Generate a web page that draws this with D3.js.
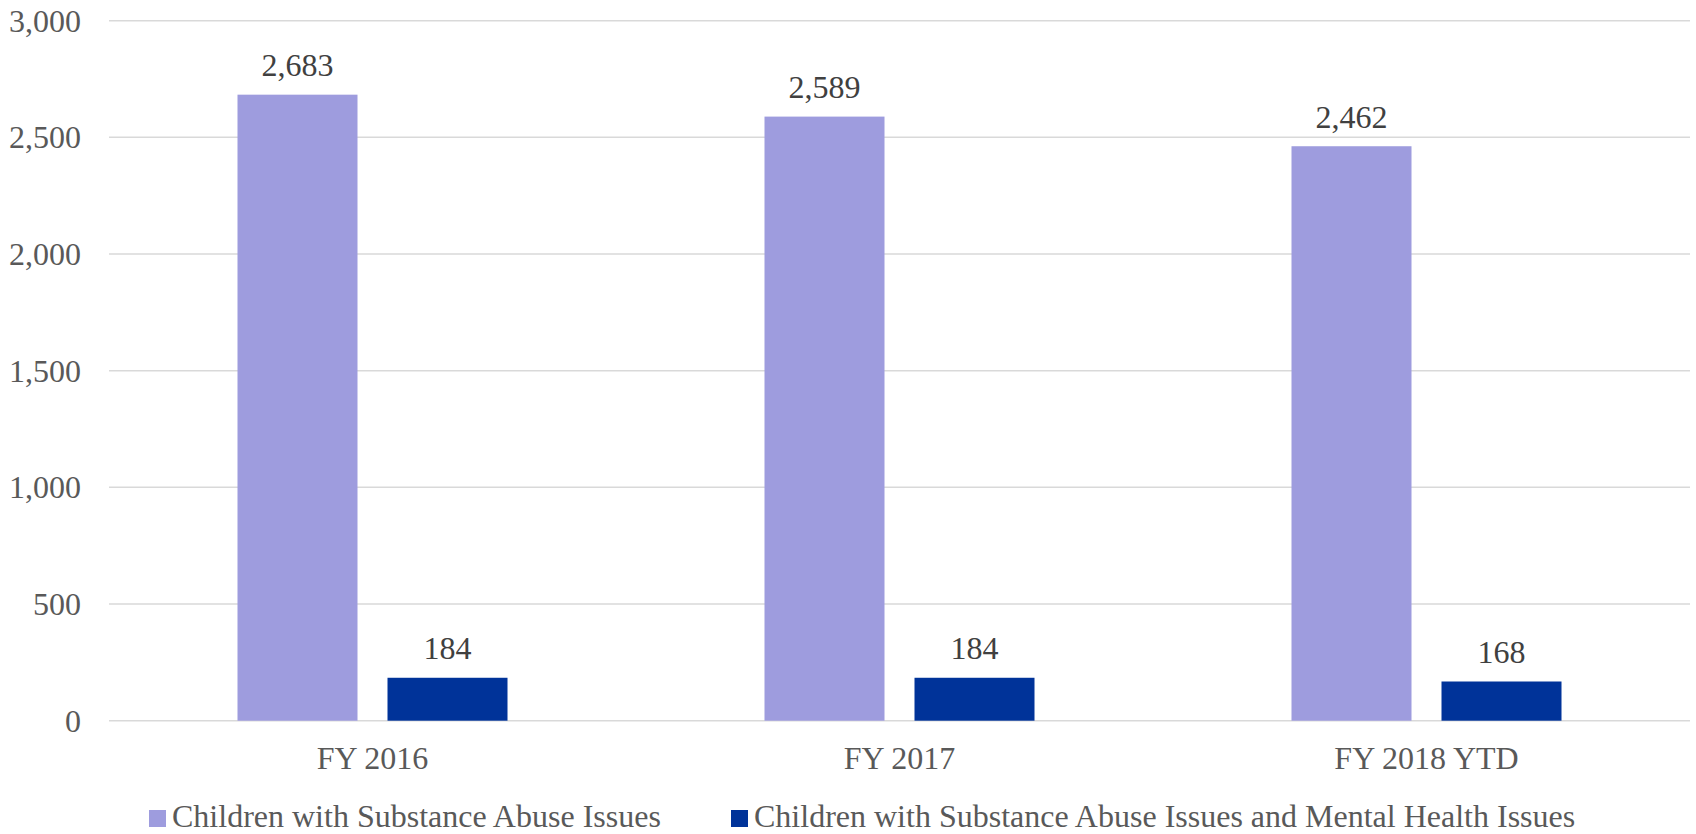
<!DOCTYPE html>
<html>
<head>
<meta charset="utf-8">
<script src="https://cdn.jsdelivr.net/npm/d3@7"></script>
<style>
	body { margin: 0; background: #fff; }
	svg { display: block; font-family: 'Liberation Serif', 'Times New Roman', serif; }
</style>
</head>
<body>
<svg></svg>
<script>
const categories = ['FY 2016', 'FY 2017', 'FY 2018 YTD']
const seriesNames = [
	'Children with Substance Abuse Issues',
	'Children with Substance Abuse Issues and Mental Health Issues'
]
const substanceAbuse = [2683, 2589, 2462]
const substanceAndMental = [184, 184, 168]
const yTicks = [0, 500, 1000, 1500, 2000, 2500, 3000]
const colors = ['#9e9cde', '#003399']

const width = 1696,
	height = 834,
	fontSize = 32,
	margin = { top: 20.7, right: 6, bottom: 113.3, left: 109 }

const series = [substanceAbuse, substanceAndMental]
const data = categories.map((c, i) => ({
	cat: c,
	values: series.map((s, j) => ({ key: seriesNames[j], value: s[i], idx: j }))
}))

const svg = d3.select('svg')
	.attr('width', width)
	.attr('height', height)

const y = d3.scaleLinear()
	.domain([0, 3000])
	.range([height - margin.bottom, margin.top])

const x0 = d3.scaleBand()
	.domain(categories)
	.range([margin.left, width - margin.right])

// bars are 120 wide with a 30 gap, the pair sits centred in the band
const x1 = d3.scaleBand()
	.domain(seriesNames)
	.range([0, 270])
	.paddingInner(0.2)

// gridlines
svg.append('g')
	.selectAll('line')
	.data(yTicks)
	.enter()
	.append('line')
	.attr('x1', margin.left)
	.attr('x2', width - margin.right)
	.attr('y1', d => y(d))
	.attr('y2', d => y(d))
	.attr('stroke', '#d9d9d9')
	.attr('stroke-width', 1.5)

// y axis labels
const yAxis = svg.append('g')
	.attr('transform', 'translate(' + (margin.left - 28) + ',0)')
	.call(d3.axisLeft(y).tickValues(yTicks).tickFormat(d3.format(',')).tickSize(0).tickPadding(0))
yAxis.select('.domain').remove()
yAxis.selectAll('text')
	.attr('font-size', fontSize)
	.attr('font-family', "'Liberation Serif', 'Times New Roman', serif")
	.attr('fill', '#595959')
	.attr('dy', '0.33em')

// x axis labels
const xAxis = svg.append('g')
	.attr('transform', 'translate(0,' + y(0) + ')')
	.call(d3.axisBottom(x0).tickSize(0).tickPadding(0))
xAxis.select('.domain').remove()
xAxis.selectAll('text')
	.attr('font-size', fontSize)
	.attr('font-family', "'Liberation Serif', 'Times New Roman', serif")
	.attr('fill', '#595959')
	.attr('dy', 0)
	.attr('y', 48.5)

const group = svg.selectAll('.grp')
	.data(data)
	.enter()
	.append('g')
	.attr('class', 'grp')
	.attr('transform', d => 'translate(' + (x0(d.cat) + x0.bandwidth() / 2 - 135) + ',0)')

group.selectAll('rect')
	.data(d => d.values)
	.enter()
	.append('rect')
	.attr('x', d => x1(d.key))
	.attr('width', x1.bandwidth())
	.attr('y', d => y(d.value))
	.attr('height', d => y(0) - y(d.value))
	.attr('fill', d => colors[d.idx])

group.selectAll('text')
	.data(d => d.values)
	.enter()
	.append('text')
	.attr('x', d => x1(d.key) + x1.bandwidth() / 2)
	.attr('y', d => y(d.value) - 18.5)
	.attr('text-anchor', 'middle')
	.attr('font-size', fontSize)
	.attr('fill', '#404040')
	.text(d => d3.format(',')(d.value))

// legend
const legendX = [149, 731]
const legend = svg.selectAll('.leg')
	.data(seriesNames)
	.enter()
	.append('g')
	.attr('class', 'leg')
	.attr('transform', (d, i) => 'translate(' + legendX[i] + ',810)')

legend.append('rect')
	.attr('width', 17)
	.attr('height', 17)
	.attr('fill', (d, i) => colors[i])

legend.append('text')
	.attr('x', 23)
	.attr('y', 17)
	.attr('font-size', fontSize)
	.attr('fill', '#595959')
	.text(d => d)
</script>
</body>
</html>
